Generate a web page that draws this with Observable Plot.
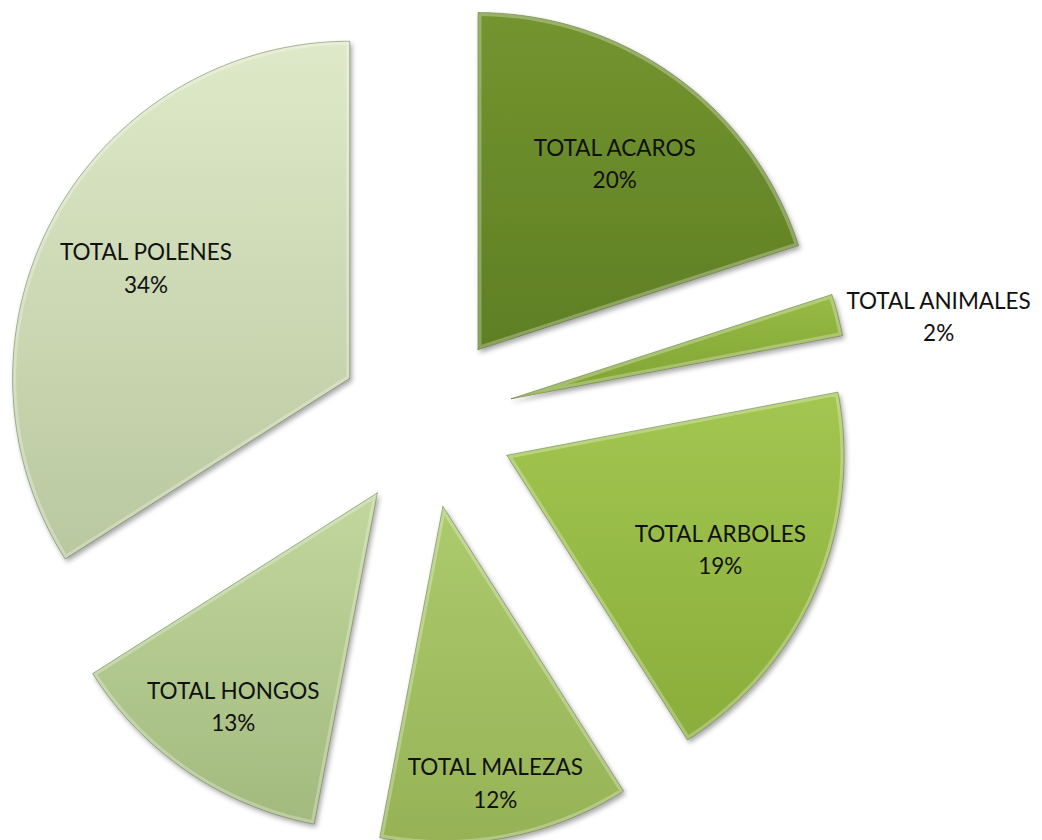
<!DOCTYPE html>
<html><head><meta charset="utf-8">
<script src="https://cdn.jsdelivr.net/npm/d3@7"></script>
<script src="https://cdn.jsdelivr.net/npm/@observablehq/plot@0.6"></script>
<style>body{margin:0;background:#fff}</style>
</head><body><div id="chart"></div>
<script>
const categories = ["TOTAL ACAROS","TOTAL ANIMALES","TOTAL ARBOLES","TOTAL MALEZAS","TOTAL HONGOS","TOTAL POLENES"];
const percents = [20, 2, 19, 12, 13, 34];
const topColors = ["#73942f", "#97bb45", "#a2c650", "#accb6c", "#c1d79d", "#dfe9c9"];
const bottomColors = ["#5f7f24", "#7fa232", "#8aad3b", "#96b256", "#a3ba7f", "#b9c89f"];

const W = 1042, H = 840;
const Rpx = 337, cxPx = 426, cyPx = 420;
const explode = 0.26;      // in radius units
const fontSize = 22.5, lineH = 1.44;
const fontFamily = "Lato, 'Open Sans', sans-serif";

const ctx = document.createElement("canvas").getContext("2d");
ctx.font = `${fontSize}px ${fontFamily}`;

const arcs = d3.pie().sort(null).value(d => d)(percents);
const TAU = 2 * Math.PI;

function fits(cx, cy, hw, hh, a0, a1, margin) {
  for (const sx of [-1, 1]) for (const sy of [-1, 1]) {
    const px = cx + sx * hw, py = cy + sy * hh;
    const rho = Math.hypot(px, py);
    let t = Math.atan2(px, py);
    while (t < a0) t += TAU;
    while (t >= a0 + TAU) t -= TAU;
    const m = margin / rho;
    if (t < a0 + m || t > a1 - m) return false;
  }
  return true;
}

const polys = [];
const labels = [];
arcs.forEach((a, i) => {
  const mid = (a.startAngle + a.endAngle) / 2;
  const ux = Math.sin(mid), uy = Math.cos(mid);
  const ox = explode * ux, oy = explode * uy;
  const name = categories[i];
  polys.push({name, x: ox, y: oy});
  const n = Math.max(4, Math.ceil((a.endAngle - a.startAngle) / (Math.PI / 360)));
  for (let k = 0; k <= n; k++) {
    const t = a.startAngle + (a.endAngle - a.startAngle) * k / n;
    polys.push({name, x: ox + Math.sin(t), y: oy + Math.cos(t)});
  }
  polys.push({name, x: ox, y: oy});

  const text = name + "\n" + percents[i] + "%";
  const hw = Math.max(ctx.measureText(name).width, ctx.measureText(percents[i] + "%").width) / 2 / Rpx;
  const hh = fontSize * lineH / Rpx;
  let lx, ly;
  if (percents[i] < 5) {
    const px = ox + ux, py = oy + uy;
    if (Math.abs(ux) > Math.abs(uy)) { lx = px + Math.sign(ux) * (hw + 8 / Rpx); ly = py; }
    else { lx = px; ly = py + Math.sign(uy) * (hh + 8 / Rpx); }
  } else {
    let d = 0.69;
    while (d < 0.95 && !fits(d * ux, d * uy, hw, hh, a.startAngle, a.endAngle, 10 / Rpx)) d += 0.005;
    lx = ox + d * ux; ly = oy + d * uy;
  }
  labels.push({name, x: lx, y: ly, text});
});

const plot = Plot.plot({
  width: W, height: H,
  margin: 0,
  x: {domain: [-cxPx / Rpx, (W - cxPx) / Rpx], range: [0, W], axis: null},
  y: {domain: [-(H - cyPx) / Rpx, cyPx / Rpx], range: [H, 0], axis: null},
  color: {type: "ordinal", domain: categories, range: categories.map((_, i) => `url(#grad${i})`)},
  style: {fontFamily, background: "white"},
  marks: [
    Plot.line(polys, {x: "x", y: "y", z: "name", fill: "name", stroke: "rgba(55,75,15,0.45)", strokeWidth: 1, curve: "linear"}),
    Plot.line(polys, {x: "x", y: "y", z: "name", fill: "none", stroke: "white", strokeOpacity: 0.28, strokeWidth: 7, strokeLinejoin: "round", curve: "linear"}),
    Plot.text(labels, {x: "x", y: "y", text: "text", fontSize, lineHeight: lineH, fill: "#111"})
  ]
});

const svg = d3.select(plot);
const defs = svg.insert("defs", ":first-child");
categories.forEach((c, i) => {
  const g = defs.append("linearGradient").attr("id", `grad${i}`)
    .attr("x1", 0).attr("y1", 0).attr("x2", 0).attr("y2", 1);
  g.append("stop").attr("offset", "0%").attr("stop-color", topColors[i]);
  g.append("stop").attr("offset", "100%").attr("stop-color", bottomColors[i]);
});
const f = defs.append("filter").attr("id", "shadow").attr("x", "-10%").attr("y", "-10%").attr("width", "130%").attr("height", "130%");
f.append("feDropShadow").attr("dx", 2).attr("dy", 3).attr("stdDeviation", 2.5).attr("flood-color", "#000").attr("flood-opacity", 0.35);
const lineGroups = svg.selectAll('g[aria-label="line"]').nodes();
if (lineGroups.length >= 2) {
  const slicePaths = d3.select(lineGroups[0]).selectAll("path");
  slicePaths.attr("filter", "url(#shadow)");
  const sliceDs = slicePaths.nodes().map(p => p.getAttribute("d"));
  d3.select(lineGroups[1]).selectAll("path").each(function(_, i) {
    if (sliceDs[i] == null) return;
    defs.append("clipPath").attr("id", `clip${i}`).append("path").attr("d", sliceDs[i]);
    d3.select(this).attr("clip-path", `url(#clip${i})`);
  });
}

document.getElementById("chart").appendChild(plot);
</script>
</body></html>
